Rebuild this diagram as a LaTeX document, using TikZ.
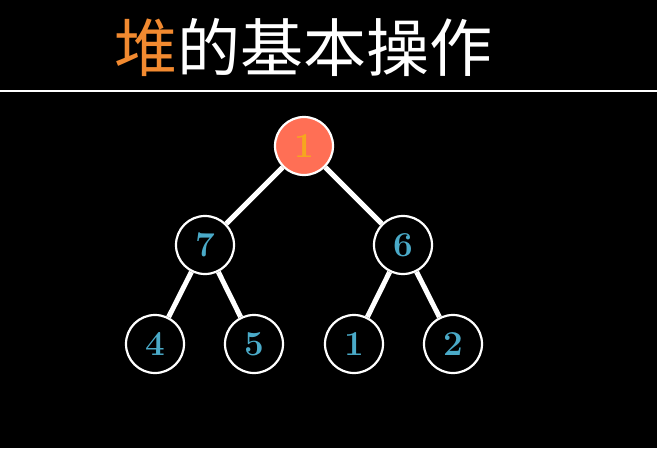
\documentclass[tikz,border=0pt]{standalone}
\usepackage{fontspec}
\newfontfamily\cjk{Noto Sans CJK SC}
\definecolor{heaporange}{HTML}{F28A30}
\definecolor{rootfill}{HTML}{FF6F55}
\definecolor{roottext}{HTML}{F6A71E}
\definecolor{numblue}{HTML}{4AAAC8}
\begin{document}
\begin{tikzpicture}[x=1pt,y=-1pt,
  heapnode/.style={circle,draw=white,line width=2.2pt,minimum size=58pt,inner sep=0pt,
    font=\fontsize{35}{35}\selectfont\bfseries,text=numblue,fill=black},
  rootnode/.style={heapnode,fill=rootfill,text=roottext},
  edge/.style={white,line width=5pt}]
\fill[black] (0,0) rectangle (657,448);
\useasboundingbox (0,0) rectangle (657,448);
\node[anchor=west,inner sep=0pt] (title) at (114,47) {\fontsize{63}{63}\selectfont\cjk\textcolor{heaporange}{堆}\textcolor{white}{的基本操作}};
\coordinate (ll) at (0,91);
\coordinate (lr) at (657,91);
\draw[white,line width=1.8pt] (ll) -- (lr);
\node[rootnode] (r) at (304,146) {1};
\node[heapnode] (a) at (205,245) {7};
\node[heapnode] (b) at (403,245) {6};
\node[heapnode] (c) at (155,344) {4};
\node[heapnode] (d) at (254,344) {5};
\node[heapnode] (e) at (354,344) {1};
\node[heapnode] (f) at (453,344) {2};
\draw[edge] (r) -- (a);
\draw[edge] (r) -- (b);
\draw[edge] (a) -- (c);
\draw[edge] (a) -- (d);
\draw[edge] (b) -- (e);
\draw[edge] (b) -- (f);
\end{tikzpicture}
\end{document}
